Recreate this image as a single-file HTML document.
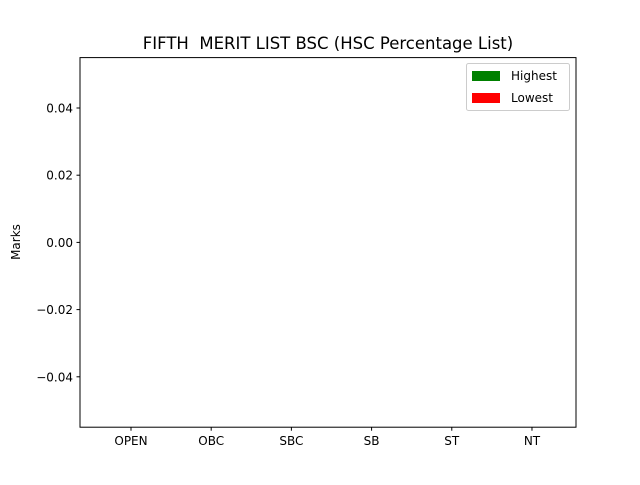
<!DOCTYPE html>
<html><head><meta charset="utf-8"><style>
body{margin:0;background:#fff;}
svg text{font-family:"DejaVu Sans","Liberation Sans",sans-serif;}
</style></head><body>
<svg id="chart" width="640" height="480" xmlns="http://www.w3.org/2000/svg">
<rect width="640" height="480" fill="#fff"/>
<text x="328" y="49" font-size="16.5" text-anchor="middle" style="white-space:pre">FIFTH &#160;MERIT LIST BSC (HSC Percentage List)</text>
<text transform="translate(20,242) rotate(-90)" font-size="12" text-anchor="middle">Marks</text>
<g id="bars"></g>
<g id="ticks"></g>
<rect x="80" y="57.6" width="496" height="369.6" fill="none" stroke="#000" stroke-width="1"/>
<g>
<rect x="466.5" y="63.5" width="103" height="47" fill="#fff" stroke="#ccc" rx="2"/>
<g>
<rect x="472" y="71" width="28" height="10" fill="green"/>
<text x="511" y="80" font-size="12">Highest</text></g>
<g>
<rect x="472" y="93" width="28" height="10" fill="red"/>
<text x="511" y="102" font-size="12">Lowest</text></g>
</g>
</svg>
<script>
const categories=["OPEN","OBC","SBC","SB","ST","NT"];
const highest=[0,0,0,0,0,0];
const lowest=[0,0,0,0,0,0];
const yTicks=[-0.04,-0.02,0.00,0.02,0.04];
const yTickLabels=["\u22120.04","\u22120.02","0.00","0.02","0.04"];
const ns="http://www.w3.org/2000/svg";
const L=80,R=576,T=57.6,B=427.2;
const xmin=-0.636,xmax=5.549,ymin=-0.055,ymax=0.055;
const bw=0.35;
function X(v){return L+(v-xmin)/(xmax-xmin)*(R-L);}
function Y(v){return B-(v-ymin)/(ymax-ymin)*(B-T);}
function mk(t,a,p){const e=document.createElementNS(ns,t);for(const k in a)e.setAttribute(k,a[k]);p.appendChild(e);return e;}
const bars=document.getElementById('bars'),ticks=document.getElementById('ticks');
categories.forEach((c,i)=>{
 const h=mk('rect',{x:X(i-bw),width:X(i)-X(i-bw),y:Math.min(Y(highest[i]),Y(0)),height:Math.abs(Y(highest[i])-Y(0)),fill:'green'},bars);
 
 
 const l=mk('rect',{x:X(i),width:X(i+bw)-X(i),y:Math.min(Y(lowest[i]),Y(0)),height:Math.abs(Y(lowest[i])-Y(0)),fill:'red'},bars);
 
 
 const xp=X(i);
 mk('line',{x1:xp,x2:xp,y1:B,y2:B+3.5,stroke:'#000'},ticks);
 const t=mk('text',{x:xp,y:B+18,'font-size':12,'text-anchor':'middle'},ticks);
 t.textContent=c;
 
 
});
yTicks.forEach((v,i)=>{
 const yp=Y(v);
 mk('line',{x1:L-3.5,x2:L,y1:yp,y2:yp,stroke:'#000'},ticks);
 const t=mk('text',{x:L-7,y:yp+4.5,'font-size':12,'text-anchor':'end'},ticks);
 t.textContent=yTickLabels[i];
 
 
});
</script>
</body></html>
